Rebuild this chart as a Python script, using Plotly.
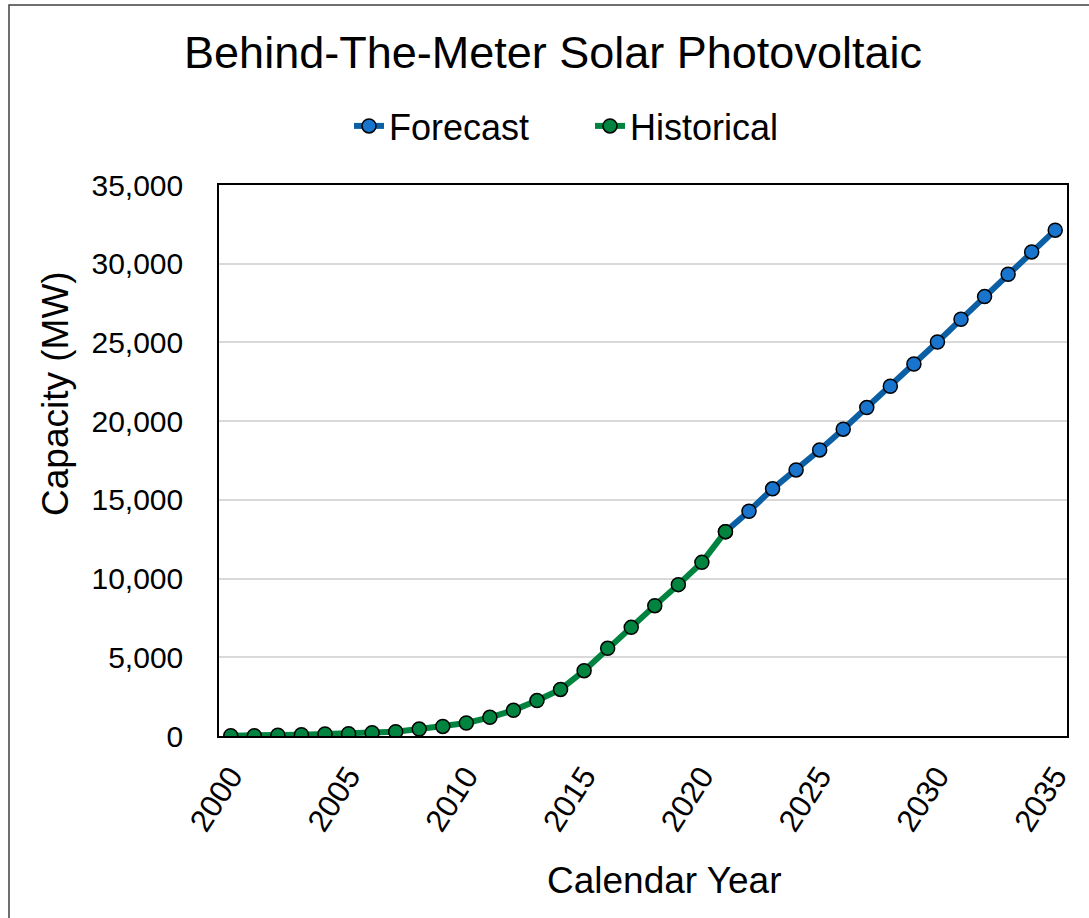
import plotly.graph_objects as go

hist_years = list(range(2000, 2022))
hist_values = [20, 20, 45, 85, 125, 150, 210, 275, 440, 610, 825, 1185, 1630, 2250,
               2960, 4150, 5570, 6900, 8280, 9615, 11030, 12980]
fc_years = list(range(2021, 2036))
fc_values = [12980, 14275, 15700, 16900, 18170, 19490, 20860, 22215, 23630, 25030,
             26470, 27910, 29330, 30750, 32130]

title_text = "Behind-The-Meter Solar Photovoltaic"
x_title = "Calendar Year"
y_title = "Capacity (MW)"

FONT = "Liberation Sans, Arial, sans-serif"
W, H = 1089, 918
L, R, T, B = 219, 1067, 185, 736

def px_x(p):
    return (p - L) / (R - L)

def px_y(p):
    return (B - p) / (B - T)

fig = go.Figure()
fig.add_trace(go.Scatter(
    x=fc_years, y=fc_values, name="Forecast", mode="lines+markers",
    line=dict(color="#0B5FA5", width=6),
    marker=dict(size=14, color="#1874CD", line=dict(color="black", width=1.5)),
))
fig.add_trace(go.Scatter(
    x=hist_years, y=hist_values, name="Historical", mode="lines+markers",
    line=dict(color="#00843F", width=6),
    marker=dict(size=14, color="#00843F", line=dict(color="black", width=1.5)),
))

fig.update_layout(
    width=W, height=H,
    margin=dict(l=L, r=W - R, t=T, b=H - B),
    paper_bgcolor="white", plot_bgcolor="white",
    font=dict(family=FONT, color="black"),
    title=dict(text=title_text, x=553 / W, xanchor="center", xref="container",
               y=1 - 52 / H, yanchor="middle", yref="container",
               font=dict(size=45, family=FONT, color="black")),
    showlegend=True,
    legend=dict(orientation="h", x=px_x(590), xanchor="center", y=px_y(126), yanchor="middle",
                font=dict(size=36, family=FONT, color="black"), bgcolor="rgba(0,0,0,0)",
                entrywidth=196, entrywidthmode="pixels", tracegroupgap=0),
    xaxis=dict(range=[1999.5, 2035.5], tick0=2000, dtick=5, tickangle=-57,
               showgrid=False, zeroline=False, showline=True, linecolor="black", linewidth=1.5,
               mirror=True, ticks="", ticklabelstandoff=8,
               tickfont=dict(size=31, family=FONT, color="black")),
    yaxis=dict(range=[0, 35000], dtick=5000, tickformat=",d",
               showgrid=True, gridcolor="#D9D9D9", gridwidth=1.5, zeroline=False,
               showline=True, linecolor="black", linewidth=1.5, mirror=True,
               ticks="", ticklabelstandoff=28,
               tickfont=dict(size=30, family=FONT, color="black")),
    annotations=[
        dict(text=x_title, x=px_x(664), y=px_y(880), xref="paper", yref="paper",
             showarrow=False, xanchor="center", yanchor="middle",
             font=dict(size=37, family=FONT, color="black")),
        dict(text=y_title, x=px_x(55), y=px_y(394), xref="paper", yref="paper",
             showarrow=False, xanchor="center", yanchor="middle", textangle=-90,
             font=dict(size=37, family=FONT, color="black")),
    ],
    shapes=[
        dict(type="rect", xref="paper", yref="paper",
             x0=px_x(9), x1=px_x(1100), y0=px_y(930), y1=px_y(5),
             line=dict(color="#404040", width=1.5), fillcolor="rgba(0,0,0,0)", layer="below"),
    ],
)

fig.write_html("out.html", config={"displayModeBar": False},
               post_script="document.body.style.margin='0';")
